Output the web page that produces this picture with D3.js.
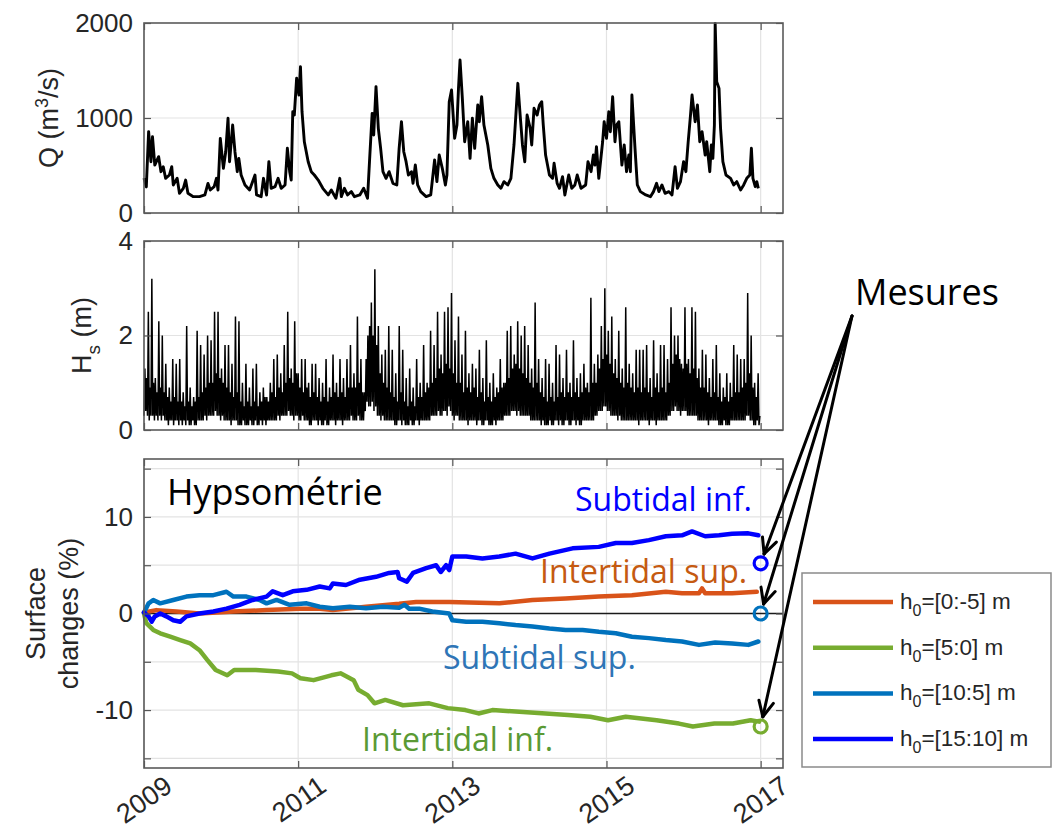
<!DOCTYPE html>
<html><head><meta charset="utf-8">
<script src="https://cdn.jsdelivr.net/npm/d3@7"></script>
<style>body{margin:0;background:#fff} svg{display:block}</style>
</head><body><svg id="c" width="1053" height="831"></svg>
<script>
// ---------------- DATA ----------------
const yearTicks = [2009, 2011, 2013, 2015, 2017];
const qTicks = [0, 1000, 2000];
const hsTicks = [0, 2, 4];
const sTicks = [-15, -10, -5, 0, 5, 10, 15];
const sLabels = [-10, 0, 10];

// River discharge Q (m3/s); time in years since 2009.0
const qT = [0.00,0.03,0.06,0.09,0.11,0.14,0.19,0.22,0.25,0.28,0.33,0.36,0.38,0.43,0.46,0.51,0.54,0.57,0.64,0.72,0.79,0.83,0.86,0.91,0.94,0.96,0.99,1.03,1.06,1.09,1.11,1.15,1.18,1.21,1.23,1.26,1.31,1.37,1.44,1.46,1.52,1.55,1.59,1.62,1.65,1.70,1.74,1.78,1.83,1.86,1.89,1.91,1.93,1.95,1.98,2.01,2.03,2.05,2.08,2.13,2.17,2.21,2.26,2.32,2.39,2.43,2.49,2.54,2.56,2.60,2.64,2.69,2.73,2.80,2.85,2.90,2.93,2.96,2.98,3.01,3.04,3.07,3.10,3.14,3.18,3.23,3.28,3.31,3.34,3.37,3.40,3.43,3.47,3.49,3.52,3.55,3.59,3.66,3.72,3.77,3.80,3.83,3.87,3.91,3.93,3.96,3.99,4.03,4.06,4.08,4.10,4.13,4.16,4.20,4.23,4.26,4.29,4.33,4.35,4.38,4.41,4.46,4.50,4.54,4.59,4.63,4.67,4.72,4.76,4.80,4.85,4.88,4.91,4.94,4.97,5.01,5.03,5.06,5.10,5.13,5.16,5.18,5.21,5.26,5.30,5.32,5.36,5.39,5.43,5.46,5.51,5.55,5.59,5.62,5.67,5.73,5.76,5.80,5.83,5.85,5.87,5.90,5.95,5.97,6.00,6.03,6.05,6.08,6.11,6.13,6.16,6.20,6.23,6.26,6.29,6.31,6.33,6.37,6.40,6.44,6.51,6.57,6.61,6.65,6.68,6.72,6.76,6.81,6.85,6.89,6.92,6.96,7.00,7.03,7.06,7.09,7.11,7.15,7.18,7.21,7.24,7.28,7.30,7.34,7.36,7.38,7.40,7.41,7.43,7.46,7.48,7.51,7.55,7.61,7.65,7.69,7.74,7.78,7.82,7.86,7.88,7.90,7.93,7.95,7.97];
const qV = [368,274,856,540,803,505,593,435,487,365,400,487,295,365,207,260,347,207,172,172,190,312,242,277,365,242,786,470,645,997,540,926,645,435,575,400,295,242,400,190,172,365,190,540,260,277,365,260,295,681,435,347,1066,1031,1418,1242,1540,1066,750,540,435,400,347,260,190,242,155,365,172,260,190,225,172,190,260,155,610,1049,821,1330,891,681,435,365,435,312,295,681,961,645,540,400,435,312,505,295,225,172,190,558,330,610,470,295,400,1172,1295,786,926,1312,1610,1207,750,961,575,997,681,1137,961,1224,926,716,470,365,295,260,330,295,365,716,1365,1031,716,540,1031,891,716,1102,1031,1137,1172,926,610,400,365,523,312,260,382,190,400,260,295,400,260,295,540,435,610,505,698,365,750,961,786,1066,856,1224,750,926,961,505,716,435,610,435,1242,681,295,225,190,172,225,312,225,295,207,225,190,487,260,330,540,435,750,1031,1242,961,1137,750,856,610,750,435,716,575,926,1996,1382,1312,891,540,400,365,295,330,242,295,365,400,681,365,277,330,260];

// Significant wave height Hs (m), evenly sampled from hsStart to hsEnd
const hsStart = 2009.0, hsEnd = 2016.99;
const hsV = [
0.3,1.3,0.4,1.1,0.3,2.5,0.2,0.9,0.3,3.2,0.3,1.0,0.2,1.1,0.3,0.8,0.2,2.3,0.3,0.9,0.2,2.0,0.3,0.8,0.2,1.4,0.2,0.7,0.1,0.9,0.2,0.6,0.2,1.5,0.1,0.7,0.2,1.4,0.2,0.6,
0.1,1.5,0.2,0.6,0.1,0.8,0.2,0.5,0.1,2.2,0.2,0.6,0.1,0.9,0.1,0.5,0.2,0.7,0.1,0.6,0.1,2.1,0.2,0.7,0.2,1.8,0.2,0.8,0.2,1.6,0.3,0.9,0.2,2.0,0.3,1.0,0.3,1.9,0.3,1.0,
0.3,2.5,0.4,1.2,0.3,2.5,0.3,1.1,0.2,1.3,0.3,1.0,0.2,1.8,0.2,0.9,0.2,1.8,0.2,0.8,0.1,1.4,0.2,0.7,0.2,2.4,0.2,0.8,0.1,2.3,0.1,0.6,0.1,1.0,0.2,0.5,0.1,1.4,0.1,0.6,
0.1,0.9,0.2,0.5,0.1,1.3,0.1,0.6,0.2,1.4,0.1,0.5,0.1,0.8,0.2,0.6,0.1,0.9,0.2,0.7,0.1,0.7,0.2,0.6,0.2,1.0,0.2,0.8,0.2,1.5,0.2,0.7,0.2,1.6,0.3,0.9,0.2,1.2,0.3,0.8,
0.3,1.8,0.3,1.0,0.3,2.5,0.4,1.1,0.3,1.3,0.3,1.0,0.2,2.3,0.3,1.2,0.3,1.2,0.2,0.9,0.2,1.5,0.3,0.8,0.2,1.5,0.2,0.9,0.2,1.0,0.1,0.7,0.1,1.4,0.2,0.8,0.2,1.4,0.2,0.7,
0.1,1.1,0.2,0.6,0.1,1.0,0.1,0.7,0.2,1.5,0.1,0.6,0.1,0.9,0.2,0.7,0.2,1.6,0.2,0.8,0.1,1.0,0.2,0.7,0.2,1.5,0.2,0.8,0.1,1.1,0.2,0.7,0.2,1.5,0.2,0.9,0.2,1.8,0.3,0.9,
0.2,1.2,0.2,0.9,0.2,2.4,0.3,1.0,0.2,1.5,0.2,0.8,0.2,0.8,0.4,1.5,0.6,2.0,0.5,2.2,0.5,2.7,0.6,2.0,0.4,3.4,0.5,1.8,0.3,2.2,0.3,1.2,0.2,1.6,0.3,1.0,0.2,1.7,0.2,0.9,
0.2,2.2,0.2,0.8,0.2,1.7,0.2,0.7,0.1,1.2,0.1,0.6,0.2,2.2,0.2,0.8,0.1,1.7,0.2,0.6,0.1,1.1,0.1,0.5,0.1,1.3,0.2,0.6,0.1,0.9,0.1,0.5,0.2,1.5,0.2,0.7,0.1,1.0,0.2,0.7,
0.2,1.8,0.2,0.8,0.2,1.0,0.2,0.9,0.2,2.1,0.3,1.0,0.3,1.8,0.3,1.1,0.3,2.5,0.4,1.3,0.3,1.6,0.3,1.2,0.4,2.5,0.4,1.4,0.3,2.6,0.5,1.3,0.4,2.9,0.3,1.2,0.2,1.9,0.3,1.0,
0.3,2.4,0.2,1.0,0.2,1.6,0.2,0.8,0.2,2.1,0.2,0.9,0.1,1.2,0.2,0.8,0.2,1.4,0.2,0.9,0.2,1.3,0.1,0.7,0.2,1.7,0.2,0.8,0.1,1.1,0.1,0.6,0.2,1.9,0.2,0.7,0.1,1.0,0.1,0.6,
0.1,1.2,0.2,0.7,0.1,0.9,0.2,0.8,0.2,1.5,0.2,0.9,0.2,1.0,0.3,1.0,0.3,2.1,0.3,1.1,0.3,2.2,0.4,1.3,0.4,1.6,0.4,1.4,0.3,2.3,0.4,1.3,0.3,2.0,0.3,1.2,0.3,2.2,0.3,1.1,
0.3,1.8,0.3,1.0,0.2,1.3,0.2,0.9,0.2,2.7,0.2,1.0,0.2,1.5,0.2,0.8,0.1,1.1,0.2,0.7,0.1,1.5,0.1,0.6,0.1,1.4,0.2,0.7,0.1,1.0,0.1,0.6,0.2,1.8,0.2,0.7,0.1,1.6,0.2,0.8,
0.1,1.1,0.1,0.7,0.2,1.7,0.2,0.8,0.1,1.0,0.1,0.7,0.2,1.9,0.2,0.8,0.1,1.1,0.2,0.7,0.1,1.2,0.1,0.8,0.2,1.4,0.2,0.9,0.2,1.0,0.2,0.8,0.2,2.8,0.2,1.0,0.2,1.4,0.3,1.0,
0.3,1.6,0.4,1.3,0.4,2.2,0.4,1.5,0.5,3.0,0.5,1.6,0.4,2.1,0.4,1.4,0.3,2.4,0.3,1.2,0.3,1.5,0.3,1.1,0.2,2.1,0.3,1.0,0.2,1.3,0.2,0.9,0.2,2.6,0.2,1.0,0.2,1.4,0.2,0.9,
0.2,1.2,0.2,0.8,0.2,1.7,0.2,0.9,0.1,1.7,0.2,0.8,0.2,1.7,0.2,0.9,0.2,1.8,0.2,0.8,0.1,1.1,0.2,0.7,0.2,1.9,0.2,0.9,0.1,1.2,0.2,0.8,0.2,1.8,0.2,0.9,0.2,1.8,0.2,0.8,
0.2,1.5,0.3,1.0,0.3,2.6,0.4,1.4,0.4,2.0,0.5,1.6,0.4,2.0,0.4,1.5,0.3,1.4,0.4,1.3,0.4,2.6,0.4,1.4,0.3,1.5,0.3,1.2,0.3,2.6,0.3,1.3,0.3,2.5,0.3,1.1,0.2,1.3,0.2,0.9,
0.2,1.7,0.2,0.9,0.2,1.6,0.2,0.8,0.1,1.1,0.2,0.7,0.2,1.5,0.2,0.8,0.2,1.8,0.2,0.7,0.1,1.2,0.1,0.6,0.1,0.9,0.2,0.7,0.1,1.2,0.1,0.6,0.1,1.0,0.2,0.7,0.2,1.8,0.2,0.8,
0.2,1.6,0.2,0.8,0.2,1.5,0.2,0.9,0.2,1.5,0.2,1.0,0.3,2.9,0.3,1.2,0.2,2.0,0.2,0.9,0.1,1.0,0.1,0.7,0.2,1.2,0.1,0.3
];

// Surface changes (%), time in years since 2009.0
const supIntertidalT = [0.00,0.16,0.42,0.72,1.16,1.59,2.02,2.28,2.45,2.88,3.31,3.53,3.96,4.61,5.04,5.47,5.90,6.33,6.77,6.98,7.20,7.24,7.28,7.41,7.63,7.95];
const supIntertidalV = [0.1,0.35,0.2,0.0,0.2,0.35,0.5,0.5,0.35,0.7,1.0,1.2,1.2,1.05,1.4,1.55,1.75,1.9,2.25,2.1,2.1,2.6,2.1,2.1,2.1,2.25];

const infIntertidalT = [0.00,0.03,0.12,0.21,0.34,0.47,0.60,0.72,0.82,0.93,1.08,1.17,1.45,1.74,1.92,2.03,2.20,2.43,2.55,2.72,2.78,2.90,2.99,3.13,3.36,3.70,3.94,4.17,4.34,4.52,4.92,5.21,5.50,5.79,6.02,6.25,6.65,6.94,7.12,7.40,7.64,7.87,7.98];
const infIntertidalV = [0.0,-1.0,-1.7,-2.05,-2.4,-2.75,-3.1,-3.8,-4.8,-5.85,-6.4,-5.85,-5.85,-6.0,-6.2,-6.7,-6.9,-6.4,-6.2,-6.9,-7.9,-8.45,-9.3,-8.95,-9.5,-9.3,-9.8,-10.0,-10.35,-10.0,-10.2,-10.35,-10.5,-10.7,-11.05,-10.7,-11.05,-11.4,-11.7,-11.4,-11.4,-11.05,-11.2];

const supSubtidalT = [0.00,0.06,0.12,0.21,0.38,0.55,0.72,0.90,1.07,1.16,1.33,1.50,1.59,1.72,1.89,2.11,2.28,2.45,2.67,2.88,3.10,3.31,3.38,3.44,3.57,3.74,3.96,4.00,4.18,4.39,4.61,4.82,5.04,5.26,5.47,5.69,5.90,6.12,6.33,6.55,6.77,6.98,7.20,7.41,7.63,7.84,7.97];
const supSubtidalV = [0.1,1.05,1.4,1.05,1.4,1.75,1.9,1.9,2.25,1.75,1.75,1.4,1.05,1.4,0.9,1.05,0.7,0.55,0.7,0.55,0.7,0.6,0.9,0.5,0.5,0.2,0.0,-0.7,-0.85,-0.85,-1.0,-1.2,-1.35,-1.55,-1.7,-1.7,-1.9,-2.05,-2.4,-2.55,-2.75,-2.9,-3.25,-3.0,-3.1,-3.25,-2.9];

const infSubtidalT = [0.00,0.06,0.10,0.14,0.21,0.29,0.38,0.47,0.55,0.72,0.90,1.07,1.24,1.41,1.59,1.67,1.80,1.93,2.11,2.28,2.41,2.45,2.62,2.80,3.01,3.18,3.29,3.31,3.41,3.49,3.66,3.79,3.85,3.92,3.96,4.00,4.18,4.39,4.61,4.82,5.04,5.26,5.56,5.90,6.12,6.33,6.55,6.77,6.98,7.11,7.28,7.46,7.63,7.84,7.97];
const infSubtidalV = [0.1,-0.3,-0.85,-0.3,0.0,-0.3,-0.7,-0.85,-0.3,0.0,0.2,0.5,0.9,1.4,1.75,2.3,1.9,2.3,2.45,2.8,2.6,3.1,2.95,3.5,3.8,4.2,4.3,3.65,3.3,4.2,4.7,5.0,4.3,5.0,4.5,5.9,5.9,5.7,5.9,6.2,5.7,6.2,6.75,6.9,7.3,7.3,7.6,8.0,8.1,8.5,8.0,8.1,8.25,8.3,8.1];

// Measurements (2017)
const measureYear = 2017.0;
const measureNames = ["infSubtidal", "supSubtidal", "infIntertidal"];
const measureValues = [5.2, 0.0, -11.7];

const seriesNames = ["supIntertidal", "infIntertidal", "supSubtidal", "infSubtidal"];
const legendLabels = ["[0:-5] m", "[5:0] m", "[10:5] m", "[15:10] m"];
const seriesColors = {supIntertidal: "#D95319", infIntertidal: "#77AC30", supSubtidal: "#0072BD", infSubtidal: "#0000FF"};
const annotationLabels = {infSubtidal: "Subtidal inf.", supIntertidal: "Intertidal sup.", supSubtidal: "Subtidal sup.", infIntertidal: "Intertidal inf."};
const annotationColors = {infSubtidal: "#0000FF", supIntertidal: "#C55A11", supSubtidal: "#2E75B6", infIntertidal: "#5A9A34"};

// ---------------- DRAW ----------------
const svg = d3.select("#c");
const axisFont = "'Liberation Sans', Arial, Helvetica, sans-serif";
const annFont = "'Open Sans', 'Noto Sans', sans-serif";
const L = 144, R = 783;
const x = d3.scaleLinear().domain([2009, 2017.29]).range([L, R]);

const panels = [
  {top: 23, bottom: 213, domain: [0, 2000], ticks: qTicks, labels: qTicks, grid: [1000]},
  {top: 241, bottom: 430, domain: [0, 4], ticks: hsTicks, labels: hsTicks, grid: [2]},
  {top: 459, bottom: 768, domain: [-16, 16], ticks: sTicks, labels: sLabels, grid: sTicks}
];
panels.forEach(p => { p.y = d3.scaleLinear().domain(p.domain).range([p.bottom, p.top]); });

function drawFrame(p) {
  const g = svg.append("g");
  g.selectAll(".vg").data(yearTicks).join("line")
    .attr("x1", d => x(d)).attr("x2", d => x(d)).attr("y1", p.top).attr("y2", p.bottom)
    .attr("stroke", "#e3e3e3").attr("stroke-width", 1.2);
  g.selectAll(".hg").data(p.grid).join("line")
    .attr("x1", L).attr("x2", R).attr("y1", d => p.y(d)).attr("y2", d => p.y(d))
    .attr("stroke", "#e3e3e3").attr("stroke-width", 1.2);
  p.g = g;
}
function drawAxes(p) {
  const g = svg.append("g");
  const left = g.append("g").attr("transform", `translate(${L},0)`)
    .call(d3.axisLeft(p.y).tickValues(p.ticks).tickSizeInner(-7).tickSizeOuter(0).tickPadding(11)
      .tickFormat(d => p.labels.includes(d) ? String(d) : ""));
  const right = g.append("g").attr("transform", `translate(${R},0)`)
    .call(d3.axisRight(p.y).tickValues(p.ticks).tickSizeInner(-7).tickSizeOuter(0).tickFormat(""));
  const bottom = g.append("g").attr("transform", `translate(0,${p.bottom})`)
    .call(d3.axisBottom(x).tickValues(yearTicks).tickSizeInner(-7).tickSizeOuter(0).tickFormat(""));
  const top = g.append("g").attr("transform", `translate(0,${p.top})`)
    .call(d3.axisTop(x).tickValues(yearTicks).tickSizeInner(-7).tickSizeOuter(0).tickFormat(""));
  [left, right, bottom, top].forEach(a => {
    a.select(".domain").remove();
    a.selectAll("line").attr("stroke", "#555").attr("stroke-width", 1.2);
    a.selectAll("text").attr("font-family", axisFont).attr("font-size", 26).attr("fill", "#262626");
  });
  g.append("rect").attr("x", L).attr("y", p.top).attr("width", R - L).attr("height", p.bottom - p.top)
    .attr("fill", "none").attr("stroke", "#5a5a5a").attr("stroke-width", 1.6);
}

panels.forEach(drawFrame);

// Panel 1: Q
const p1 = panels[0];
p1.g.append("path").datum(qT.map((t, i) => [2009 + t, qV[i]]))
  .attr("fill", "none").attr("stroke", "#000").attr("stroke-width", 2.9).attr("stroke-linejoin", "round")
  .attr("d", d3.line().x(d => x(d[0])).y(d => p1.y(d[1])));

// Panel 2: Hs
const p2 = panels[1];
const hsStep = (hsEnd - hsStart) / (hsV.length - 1);
p2.g.append("path").datum(hsV.map((v, i) => [hsStart + i * hsStep, v]))
  .attr("fill", "none").attr("stroke", "#000").attr("stroke-width", 1.5).attr("stroke-linejoin", "bevel")
  .attr("d", d3.line().x(d => x(d[0])).y(d => p2.y(d[1])));

// Panel 3: surface
const p3 = panels[2];
p3.g.append("line").attr("x1", L).attr("x2", R).attr("y1", p3.y(0)).attr("y2", p3.y(0))
  .attr("stroke", "#1a1a1a").attr("stroke-width", 1.3);
const seriesData = {
  supIntertidal: [supIntertidalT, supIntertidalV],
  infIntertidal: [infIntertidalT, infIntertidalV],
  supSubtidal: [supSubtidalT, supSubtidalV],
  infSubtidal: [infSubtidalT, infSubtidalV]
};
seriesNames.forEach(n => {
  const [T, V] = seriesData[n];
  p3.g.append("path").datum(T.map((t, i) => [2009 + t, V[i]]))
    .attr("fill", "none").attr("stroke", seriesColors[n]).attr("stroke-width", 4.5)
    .attr("stroke-linejoin", "round").attr("stroke-linecap", "round")
    .attr("d", d3.line().x(d => x(d[0])).y(d => p3.y(d[1])));
});
measureNames.forEach((n, i) => {
  p3.g.append("circle").attr("cx", x(measureYear)).attr("cy", p3.y(measureValues[i])).attr("r", 6.5)
    .attr("fill", "none").attr("stroke", seriesColors[n]).attr("stroke-width", 3.2);
});

panels.forEach(drawAxes);

// x tick labels (bottom panel)
svg.append("g").selectAll("text").data(yearTicks).join("text")
  .attr("transform", d => `translate(${x(d) + 30},${p3.bottom + 22}) rotate(-35)`)
  .attr("text-anchor", "end").attr("font-family", axisFont).attr("font-size", 27).attr("fill", "#262626")
  .text(d => d);

// y axis labels
const q = svg.append("text").attr("transform", `translate(58,${(p1.top + p1.bottom) / 2}) rotate(-90)`)
  .attr("text-anchor", "middle").attr("font-family", axisFont).attr("font-size", 27).attr("fill", "#262626");
q.append("tspan").text("Q (m");
q.append("tspan").attr("dy", -10).attr("font-size", 18).text("3");
q.append("tspan").attr("dy", 10).text("/s)");
const h = svg.append("text").attr("transform", `translate(91,${(p2.top + p2.bottom) / 2}) rotate(-90)`)
  .attr("text-anchor", "middle").attr("font-family", axisFont).attr("font-size", 27).attr("fill", "#262626");
h.append("tspan").text("H");
h.append("tspan").attr("dy", 9).attr("font-size", 19).text("s");
h.append("tspan").attr("dy", -9).text(" (m)");
const sl = svg.append("g").attr("font-family", axisFont).attr("font-size", 27).attr("fill", "#262626");
sl.append("text").attr("transform", `translate(45,${(p3.top + p3.bottom) / 2}) rotate(-90)`).attr("text-anchor", "middle").text("Surface");
sl.append("text").attr("transform", `translate(78,${(p3.top + p3.bottom) / 2}) rotate(-90)`).attr("text-anchor", "middle").text("changes (%)");

// Annotations
const ann = svg.append("g").attr("font-family", annFont);
ann.append("text").attr("x", 167).attr("y", 505).attr("font-size", 36).attr("fill", "#000").text("Hypsométrie");
const annPos = {infSubtidal: [575, 511], supIntertidal: [540, 583], supSubtidal: [443, 669], infIntertidal: [362, 751]};
Object.keys(annPos).forEach(n => {
  ann.append("text").attr("x", annPos[n][0]).attr("y", annPos[n][1]).attr("font-size", 32)
    .attr("fill", annotationColors[n]).text(annotationLabels[n]);
});
ann.append("text").attr("x", 855).attr("y", 305).attr("font-size", 36).attr("fill", "#000").text("Mesures");

// Arrows
const origin = [852, 316];
const arr = svg.append("g").attr("stroke", "#000").attr("stroke-width", 3).attr("fill", "none").attr("stroke-linecap", "round");
measureValues.forEach(v => {
  const cx = x(measureYear), cy = p3.y(v);
  const dx = origin[0] - cx, dy = origin[1] - cy, len = Math.hypot(dx, dy);
  const ux = dx / len, uy = dy / len;
  const tip = [cx + ux * 10, cy + uy * 10];
  arr.append("line").attr("x1", origin[0]).attr("y1", origin[1]).attr("x2", tip[0]).attr("y2", tip[1]);
  const a = 0.45, hl = 17;
  [a, -a].forEach(s => {
    const c = Math.cos(s), sn = Math.sin(s);
    const hx = ux * c - uy * sn, hy = ux * sn + uy * c;
    arr.append("line").attr("x1", tip[0]).attr("y1", tip[1]).attr("x2", tip[0] + hx * hl).attr("y2", tip[1] + hy * hl);
  });
});

// Legend
const lg = svg.append("g");
lg.append("rect").attr("x", 802).attr("y", 573).attr("width", 249).attr("height", 194)
  .attr("fill", "#fff").attr("stroke", "#8a8a8a").attr("stroke-width", 1.5);
seriesNames.forEach((n, i) => {
  const yy = 602 + i * 45.7;
  lg.append("line").attr("x1", 813).attr("x2", 893).attr("y1", yy).attr("y2", yy)
    .attr("stroke", seriesColors[n]).attr("stroke-width", 4.5);
  const t = lg.append("text").attr("x", 900).attr("y", yy + 7).attr("font-family", axisFont)
    .attr("font-size", 22.5).attr("fill", "#262626");
  t.append("tspan").text("h");
  t.append("tspan").attr("dy", 7).attr("font-size", 16).text("0");
  t.append("tspan").attr("dy", -7).text("=" + legendLabels[i]);
});
</script></body></html>
